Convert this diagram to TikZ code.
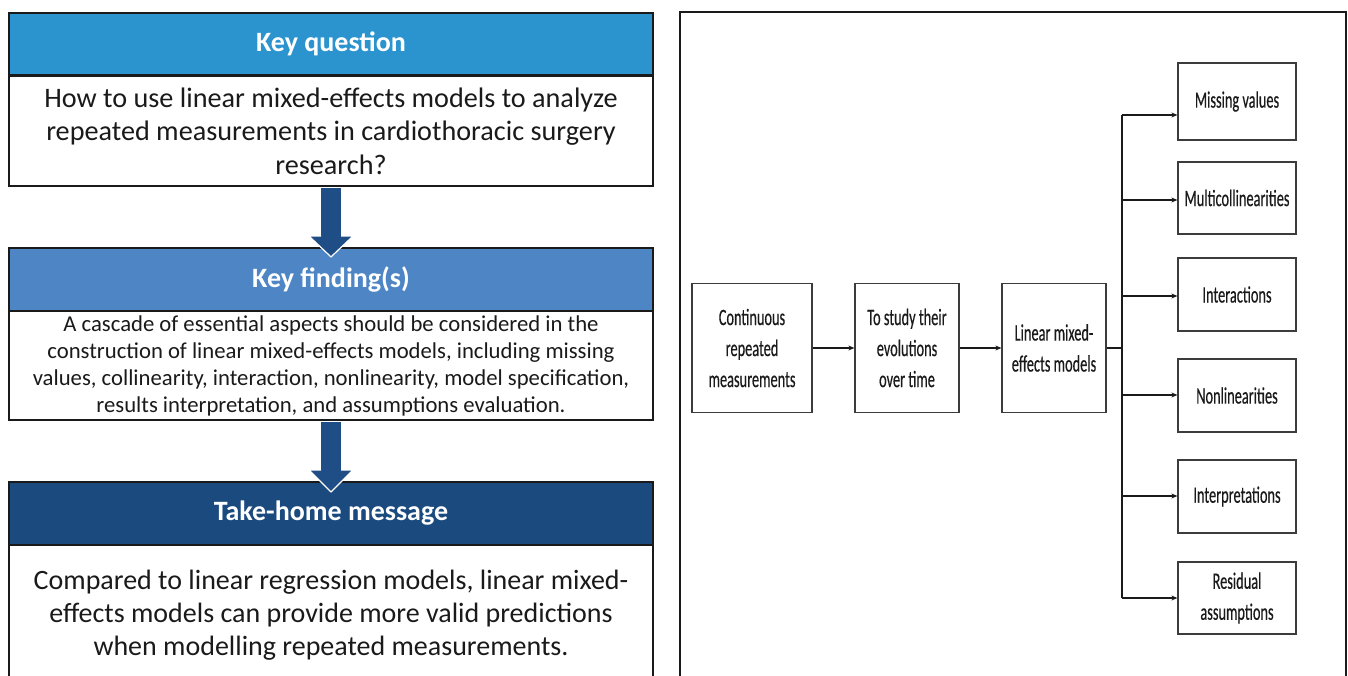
\documentclass[tikz,border=0pt]{standalone}
\usepackage{fontspec}
\setmainfont{Carlito}
\newfontfamily\condf[FakeStretch=0.61,FakeBold=0.35]{Carlito}
\usetikzlibrary{arrows.meta,calc}
\definecolor{kqblue}{HTML}{2B93CD}
\definecolor{kfblue}{HTML}{4D85C5}
\definecolor{thblue}{HTML}{1B4A7F}
\definecolor{arrblue}{HTML}{1F4E86}
\definecolor{txt}{HTML}{1A1A1A}
\begin{document}
\begin{tikzpicture}[x=1pt,y=-1pt,
  hdr/.style={draw=txt,line width=2.2pt,minimum width=644pt,inner sep=0pt,text=white,font=\bfseries\fontsize{28}{32}\selectfont},
  bodybox/.style={draw=txt,line width=2.2pt,fill=white,minimum width=644pt,inner sep=0pt,align=center,text=txt},
  rbox/.style={draw=txt!85,line width=1.3pt,fill=white,inner sep=0pt,align=center,text=txt,font=\condf\fontsize{23.5}{31}\selectfont},
  conn/.style={line width=1.2pt,draw=txt,-{Stealth[length=6pt,width=5pt]}},
  bigarrow/.style={fill=arrblue,draw=white,line width=1.2pt}]
\useasboundingbox (0,0) rectangle (1348,676);
\fill[white] (0,0) rectangle (1348,676);
% ---------- left column ----------
\node[hdr,fill=kqblue,minimum height=62pt] (kq) at (331,44) {Key question};
\node[bodybox,minimum height=110pt,font=\fontsize{28.2}{33.5}\selectfont] (kqt) at (331,131)
  {How to use linear mixed-effects models to analyze\\repeated measurements in cardiothoracic surgery\\research?};
\node[hdr,fill=kfblue,minimum height=63pt] (kf) at (331,279.5) {Key finding(s)};
\node[bodybox,minimum height=109pt,font=\fontsize{22.7}{27}\selectfont] (kft) at (331,365.5)
  {A cascade of essential aspects should be considered in the\\construction of linear mixed-effects models, including missing\\values, collinearity, interaction, nonlinearity, model specification,\\results interpretation, and assumptions evaluation.};
\node[hdr,fill=thblue,minimum height=63pt] (th) at (331,513.5) {Take-home message};
\node[bodybox,minimum height=140pt,font=\fontsize{28}{33}\selectfont] (tht) at (331,615)
  {Compared to linear regression models, linear mixed-\\effects models can provide more valid predictions\\when modelling repeated measurements.};
% block arrows
\fill[arrblue] ($(kqt.south)+(-10,1)$) rectangle ($(kqt.south)+(10,52)$);
\draw[bigarrow] ($(kqt.south)+(-10,49)$) -- ($(kqt.south)+(-22,49)$) -- ($(kf.north)+(0,10)$) -- ($(kqt.south)+(22,49)$) -- ($(kqt.south)+(10,49)$);
\fill[arrblue] ($(kft.south)+(-10,1)$) rectangle ($(kft.south)+(10,52)$);
\draw[bigarrow] ($(kft.south)+(-10,49)$) -- ($(kft.south)+(-22,49)$) -- ($(th.north)+(0,11)$) -- ($(kft.south)+(22,49)$) -- ($(kft.south)+(10,49)$);
% ---------- right panel ----------
\draw[txt,line width=2.2pt] (680,12) rectangle (1346,700);
\node[rbox,minimum width=120pt,minimum height=129pt] (cr) at (752,348) {Continuous\\repeated\\measurements};
\node[rbox,minimum width=104pt,minimum height=129pt] (ts) at (907,348) {To study their\\evolutions\\over time};
\node[rbox,minimum width=104pt,minimum height=129pt] (lm) at (1054,348) {Linear mixed-\\effects models};
\node[rbox,minimum width=118pt,minimum height=77pt] (mv) at (1237,101.5) {Missing values};
\node[rbox,minimum width=118pt,minimum height=72pt] (mc) at (1237,198) {Multicollinearities};
\node[rbox,minimum width=118pt,minimum height=73pt] (ia) at (1237,294.5) {Interactions};
\node[rbox,minimum width=118pt,minimum height=73pt] (nl) at (1237,395.5) {Nonlinearities};
\node[rbox,minimum width=118pt,minimum height=73pt] (ip) at (1237,496.5) {Interpretations};
\node[rbox,minimum width=118pt,minimum height=72pt] (ra) at (1237,598) {Residual\\assumptions};
\draw[conn] (cr) -- (ts);
\draw[conn] (ts) -- (lm);
\coordinate (br) at (1122,348);
\coordinate (b1) at (1122,115);
\coordinate (b2) at (1122,200);
\coordinate (b3) at (1122,296);
\coordinate (b4) at (1122,395);
\coordinate (b5) at (1122,496);
\coordinate (b6) at (1122,598);
\draw[line width=1.2pt,txt] (lm.east) -- (br);
\draw[line width=1.2pt,txt] (b1) -- (b6);
\draw[conn] (b1) -- (b1 -| mv.west);
\draw[conn] (b2) -- (b2 -| mc.west);
\draw[conn] (b3) -- (b3 -| ia.west);
\draw[conn] (b4) -- (b4 -| nl.west);
\draw[conn] (b5) -- (b5 -| ip.west);
\draw[conn] (b6) -- (b6 -| ra.west);
\end{tikzpicture}
\end{document}
